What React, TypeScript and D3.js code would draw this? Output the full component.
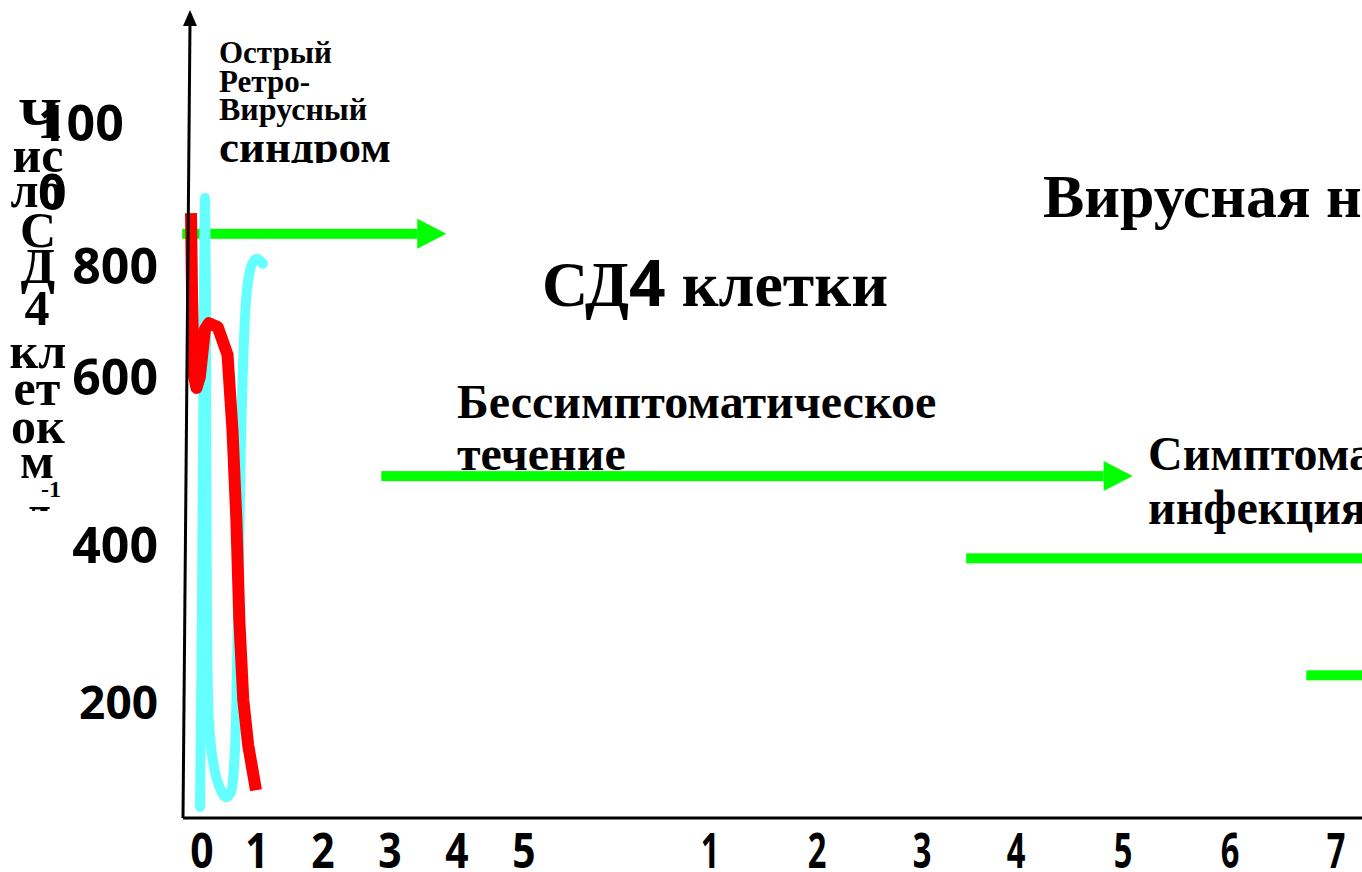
import React from "react";
import * as d3 from "d3";

const W = 1362;
const H = 872;

// x positions: index 0..5 = months, 6..12 = years 1..7
const xTickLabels = ["0", "1", "2", "3", "4", "5", "1", "2", "3", "4", "5", "6", "7"];
const xTickIndex = [0, 1, 2, 3, 4, 5, 6, 7, 8, 9, 10, 11, 12];
const yTickValues = [200, 400, 600, 800, 1000];

// CD4 cells (red) [x index, cells/ml]
const cd4Curve: [number, number][] = [
  [-0.2, 874], [-0.18, 741], [-0.15, 604], [-0.1, 587], [-0.04, 600], [0.054, 686],
  [0.125, 697], [0.286, 690], [0.464, 640], [0.554, 537], [0.625, 430], [0.679, 304],
  [0.75, 203], [0.839, 126], [0.982, 48],
];
// Viral load (cyan)
const viralCurve: [number, number][] = [
  [-0.036, 19], [0.0, 330], [0.036, 741], [0.054, 895], [0.071, 741], [0.089, 330],
  [0.125, 169], [0.196, 100], [0.304, 57], [0.429, 36], [0.518, 43], [0.589, 100],
  [0.643, 266], [0.696, 477], [0.75, 631], [0.821, 760], [0.911, 803], [1.0, 810],
  [1.089, 803],
];
// green phase bars [x start, x end, level, hasArrow]
const phaseBars: { x0: number; x1: number; y: number; arrow: boolean }[] = [
  { x0: -0.36, x1: 3.84, y: 845, arrow: true },
  { x0: 2.87, x1: 10.09, y: 482, arrow: true },
  { x0: 8.47, x1: 12.4, y: 383, arrow: false },
  { x0: 11.72, x1: 12.4, y: 234, arrow: false },
];

const yLabelLines = ["Ч", "ис", "ло", "С", "Д", "4", "кл", "ет", "ок", "м", "л"];

const serif = "'Liberation Serif', 'Times New Roman', serif";
const sans = "'Open Sans', 'Noto Sans', sans-serif";

export default function App() {
  const x = d3
    .scaleLinear()
    .domain(xTickIndex)
    .range([202, 257, 323, 390, 457, 524, 710, 817, 922, 1016, 1123, 1230, 1336]);
  const y = d3
    .scaleLinear()
    .domain([0, 200, 400, 600, 800, 1000])
    .range([818, 702, 545, 377, 266, 123]);

  const smooth = d3
    .line<[number, number]>()
    .x((d) => x(d[0]))
    .y((d) => y(d[1]))
    .curve(d3.curveCatmullRom.alpha(0.5));
  const straight = d3
    .line<[number, number]>()
    .x((d) => x(d[0]))
    .y((d) => y(d[1]))
    .curve(d3.curveLinear);

  const axisY = y(0);
  const yLabelBaselines = [138, 172, 207, 247, 283, 325, 368, 405, 443, 478, 530];
  const yLabelX = [40, 38, 37, 38, 38, 37, 38, 37, 38, 37, 37];

  return (
    <svg
      width={W}
      height={H}
      style={{ position: "absolute", left: 0, top: 0, background: "#fff" }}
    >
      <defs>
        <clipPath id="ylabClip">
          <rect x={0} y={0} width={180} height={511} />
        </clipPath>
        <clipPath id="synClip">
          <rect x={200} y={0} width={300} height={163} />
        </clipPath>
      </defs>

      {/* y axis label (wrapped narrowly) */}
      <g clipPath="url(#ylabClip)" fontFamily={serif} fontWeight="bold" fill="#000" textAnchor="middle">
        {yLabelLines.map((t, i) => (
          <text key={i} x={yLabelX[i]} y={yLabelBaselines[i]} fontSize={i === 0 ? 58 : 50}>
            {t}
          </text>
        ))}
        <text x={51} y={497} fontSize={24}>-1</text>
      </g>

      {/* y tick labels */}
      <g fontFamily={sans} fontWeight="bold" fill="#000">
        {yTickValues.map((v) =>
          v === 1000 ? (
            <g key={v}>
              <text x={38} y={y(v)} dy="0.36em" fontSize={50}>100</text>
              <text x={38} y={y(v) + 69} dy="0.36em" fontSize={50}>0</text>
            </g>
          ) : (
            <text key={v} x={158} y={y(v)} dy="0.36em" fontSize={v === 200 ? 46 : 50} textAnchor="end">
              {String(v)}
            </text>
          )
        )}
      </g>

      {/* x tick labels */}
      <g fontFamily={sans} fontWeight="bold" fill="#000" textAnchor="middle">
        {xTickLabels.map((t, i) => (
          <text
            key={i}
            transform={`translate(${x(xTickIndex[i])},868) scale(${i < 6 ? 0.85 : 0.68},1)`}
            fontSize={48}
          >
            {t}
          </text>
        ))}
      </g>

      {/* green phase bars */}
      <g fill="#00ff00">
        {phaseBars.map((b, i) => {
          const x0 = x(b.x0);
          const x1 = x(b.x1);
          const yy = y(b.y);
          const head = b.arrow ? 29 : 0;
          return (
            <g key={i}>
              <rect x={x0} y={yy - 5} width={x1 - head - x0} height={10} />
              {b.arrow && (
                <polygon points={`${x1 - head},${yy - 15} ${x1},${yy} ${x1 - head},${yy + 15}`} />
              )}
            </g>
          );
        })}
      </g>

      {/* curves */}
      <path d={smooth(viralCurve) || ""} fill="none" stroke="#66ffff" strokeWidth={10} strokeLinecap="round" strokeLinejoin="round" />
      <path d={straight(cd4Curve) || ""} fill="none" stroke="#ff0000" strokeWidth={12} strokeLinecap="butt" strokeLinejoin="round" />

      {/* axes */}
      <line x1={183} y1={axisY} x2={W} y2={axisY} stroke="#000" strokeWidth={3} />
      <line x1={183} y1={axisY} x2={190} y2={22} stroke="#000" strokeWidth={3} />
      <polygon points="190,10 183,26 197,26" fill="#000" />

      {/* annotations */}
      <g fontFamily={serif} fontWeight="bold" fill="#000">
        <text x={219} y={63} fontSize={31}>Острый</text>
        <text x={219} y={92} fontSize={31}>Ретро-</text>
        <text x={219} y={120} fontSize={32}>Вирусный</text>
        <g clipPath="url(#synClip)">
          <text x={219} y={162} fontSize={45}>синдром</text>
        </g>
        <text x={542} y={306} fontSize={64}>
          СД<tspan fontFamily={sans}>4</tspan> клетки
        </text>
        <text x={1043} y={217} fontSize={62}>Вирусная нагрузка</text>
        <text x={457} y={418} fontSize={48}>Бессимптоматическое</text>
        <text x={457} y={470} fontSize={48}>течение</text>
        <text x={1148} y={470} fontSize={48}>Симптоматическая</text>
        <text x={1148} y={524} fontSize={48}>инфекция</text>
      </g>
    </svg>
  );
}
